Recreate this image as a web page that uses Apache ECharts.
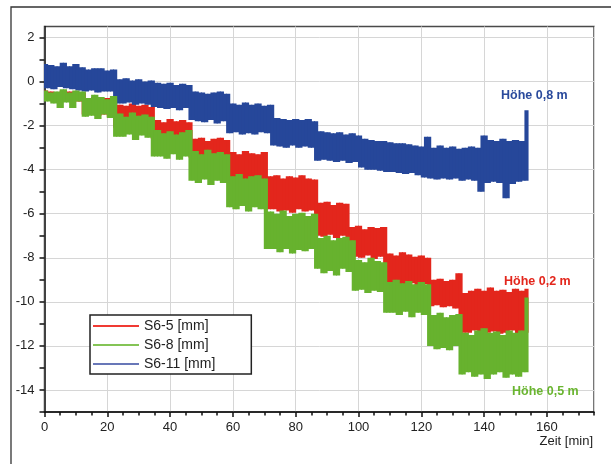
<!DOCTYPE html>
<html>
<head>
<meta charset="utf-8">
<script src="https://cdn.jsdelivr.net/npm/echarts@6/dist/echarts.min.js"></script>
<style>
html,body{margin:0;padding:0;background:#fff;}
#c{width:611px;height:464px;}
</style>
</head>
<body>
<div id="c"></div>
<script>
const seriesNames = ['S6-5 [mm]', 'S6-8 [mm]', 'S6-11 [mm]'];
const xTicks = [0, 20, 40, 60, 80, 100, 120, 140, 160];
const yTicks = [-14, -12, -10, -8, -6, -4, -2, 0, 2];

const s6_5 = [
 -0.4,-0.85,-0.45,-0.9,-0.5,-0.8,-0.4,-0.9,-0.45,-0.85,-0.5,-0.9,-0.5,
 -1.5,-0.75,-1.45,-0.7,-1.55,-0.8,-1.5,-0.75,-1.6,-0.7,-2.1,
 -1.05,-2.1,-1.1,-2.0,-1.0,-2.2,-1.1,-2.1,-1.05,-2.15,-1.15,-2.6,
 -1.75,-2.6,-1.85,-2.5,-1.7,-2.65,-1.8,-2.55,-1.75,-2.6,-1.85,
 -3.45,-2.6,-3.55,-2.55,-3.5,-2.7,-3.6,-2.6,-3.45,-2.55,-3.5,-2.65,
 -4.45,-3.2,-4.55,-3.3,-4.5,-3.15,-4.6,-3.25,-4.45,-3.3,-4.55,-3.2,-5.8,
 -4.3,-5.8,-4.25,-5.9,-4.4,-5.85,-4.3,-5.95,-4.35,-5.8,-4.25,-5.9,-4.4,-5.85,-4.45,
 -7.0,-5.5,-7.05,-5.45,-6.95,-5.6,-7.1,-5.5,-7.0,-5.55,-7.95,
 -6.6,-7.95,-6.55,-8.0,-6.7,-7.9,-6.6,-8.05,-6.65,-7.95,-6.6,-9.15,
 -7.8,-9.15,-7.9,-9.2,-7.75,-9.25,-7.85,-9.15,-7.95,-9.3,-7.9,-9.2,-8.0,
 -10.2,-9.0,-10.15,-8.95,-10.25,-9.05,-10.2,-9.0,-10.3,-8.7,-11.4,
 -9.6,-11.4,-9.5,-11.3,-9.4,-11.5,-9.5,-11.4,-9.35,-11.35,-9.5,-11.45,-9.45,-11.4,-9.55,-11.3,-9.4,-11.5,-9.5,-11.4,
 -9.4
];

const s6_8 = [
 -0.4,-0.9,-0.5,-1.0,-0.45,-1.2,-0.35,-0.95,-0.5,-1.2,-0.4,-0.9,-0.45,
 -1.6,-0.75,-1.55,-0.6,-1.7,-0.7,-1.5,-0.8,-1.65,-0.65,-2.5,
 -1.45,-2.5,-1.6,-2.4,-1.4,-2.65,-1.55,-2.45,-1.5,-2.55,-1.6,-3.4,
 -2.2,-3.4,-2.35,-3.5,-2.25,-3.3,-2.4,-3.55,-2.3,-3.4,-2.2,
 -4.5,-3.15,-4.6,-3.3,-4.45,-3.1,-4.7,-3.25,-4.5,-3.2,-4.6,-3.3,
 -5.7,-4.3,-5.8,-4.2,-5.65,-4.4,-5.9,-4.3,-5.7,-4.25,-5.8,-4.4,-7.6,
 -5.9,-7.6,-6.0,-7.75,-5.85,-7.6,-6.1,-7.8,-6.0,-7.65,-5.95,-7.7,-6.1,-7.6,-6.0,
 -8.5,-7.1,-8.7,-7.0,-8.6,-7.2,-8.8,-7.1,-8.5,-7.05,-8.65,-7.2,
 -9.5,-8.1,-9.45,-8.2,-9.6,-8.0,-9.5,-8.15,-9.55,-8.2,-10.5,
 -9.1,-10.5,-9.0,-10.6,-9.15,-10.45,-9.05,-10.7,-9.2,-10.5,-9.1,-10.6,-9.2,
 -12.0,-10.6,-12.15,-10.5,-12.1,-10.7,-12.2,-10.6,-12.0,-10.55,-13.3,
 -11.4,-13.2,-11.5,-13.4,-11.3,-13.3,-11.2,-13.5,-11.4,-13.3,-11.35,-13.2,-11.5,-13.45,-11.3,-13.3,-11.4,-13.4,-11.3,-13.2,
 -9.8
];

const s6_11 = [
 0.8,-0.3,0.75,-0.35,0.7,-0.25,0.85,-0.3,0.7,-0.35,0.8,
 -0.4,0.65,-0.45,0.55,-0.4,0.6,-0.5,0.6,-0.45,0.5,-0.45,0.55,-1.0,
 0.1,-1.0,0.15,-0.95,0.05,-1.05,0.1,-1.0,0.0,-1.05,0.05,
 -1.15,-0.05,-1.2,-0.1,-1.25,-0.05,-1.2,-0.15,-1.3,-0.1,-1.2,-0.15,
 -1.75,-0.45,-1.8,-0.5,-1.85,-0.55,-1.75,-0.5,-1.9,-0.45,-1.8,-0.55,-2.35,
 -1.0,-2.3,-1.05,-2.4,-0.95,-2.35,-1.05,-2.4,-1.0,-2.3,-1.1,-2.35,-1.05,
 -2.9,-1.65,-2.95,-1.7,-3.0,-1.75,-2.9,-1.7,-3.0,-1.75,-2.95,-1.7,-3.0,-1.8,-3.6,
 -2.25,-3.55,-2.3,-3.6,-2.35,-3.65,-2.3,-3.6,-2.4,-3.7,-2.35,-3.65,-2.45,
 -3.9,-2.6,-4.0,-2.65,-4.0,-2.7,-4.05,-2.7,-4.1,-2.75,-4.1,-2.8,-4.15,-2.8,-4.2,-2.85,-4.15,-2.9,-4.25,-2.95,
 -4.35,-2.5,-4.4,-3.0,-4.45,-2.9,-4.4,-3.0,-4.45,-2.95,-4.4,-3.05,-4.5,-3.0,-4.45,-2.95,-4.5,-3.0,
 -5.0,-2.45,-4.6,-2.65,-4.55,-2.7,-4.6,-2.6,-5.3,-2.7,-4.65,-2.65,-4.55,-2.7,-4.5,
 -1.3
];

const colors = ['#e3261c', '#67b22e', '#26479a'];
const legendColors = ['#f03a33', '#84c456', '#6877b8'];

// consecutive samples -> [t0, t1, v0, v1]
function spans(arr) {
  const out = [];
  for (let i = 0; i < arr.length - 1; i++) out.push([i, i + 1, arr[i], arr[i + 1]]);
  return out;
}

function renderBand(params, api) {
  const pA = api.coord([api.value(0), api.value(2)]);
  const pB = api.coord([api.value(1), api.value(3)]);
  const yTop = Math.min(pA[1], pB[1]);
  const yBot = Math.max(pA[1], pB[1]);
  return {
    type: 'rect',
    shape: {x: pA[0] - 0.5, y: yTop, width: pB[0] - pA[0] + 1.0, height: yBot - yTop},
    style: {fill: api.visual('color')},
    silent: true
  };
}

const font = 'Liberation Sans, Arial, Helvetica, sans-serif';
const chart = echarts.init(document.getElementById('c'), null, {renderer: 'canvas'});

const series = [
  {name: seriesNames[0], data: spans(s6_5), itemStyle: {color: colors[0]}, z: 2},
  {name: seriesNames[2], data: spans(s6_11), itemStyle: {color: colors[2]}, z: 3},
  {name: seriesNames[1], data: spans(s6_8), itemStyle: {color: colors[1]}, z: 4}
].map(s => Object.assign(s, {
  type: 'custom', renderItem: renderBand, animation: false,
  encode: {x: [0, 1], y: [2, 3]}, xAxisIndex: 0, yAxisIndex: 0, clip: true
}));

chart.setOption({
  animation: false,
  backgroundColor: '#fff',
  textStyle: {fontFamily: font},
  grid: {left: 44.5, top: 26.5, right: 17, bottom: 52, show: true, borderColor: '#4a4a4a', borderWidth: 1.5, backgroundColor: 'transparent'},
  legend: {
    orient: 'vertical', left: 90, top: 315, z: 20,
    backgroundColor: '#fff', borderColor: '#222', borderWidth: 1.5, borderRadius: 0,
    padding: [4, 36, 3, 3],
    itemWidth: 46, itemHeight: 14, itemGap: 5,
    textStyle: {fontSize: 14, color: '#222', fontFamily: font},
    data: seriesNames.map((n, i) => ({name: n, icon: 'path://M0,0L46,0L46,2.2L0,2.2Z', itemStyle: {color: legendColors[i]}}))
  },
  xAxis: [
    {type: 'value', min: 0, max: 175, interval: 20,
     axisLine: {show: true, onZero: false, lineStyle: {color: '#111', width: 1.5}},
     axisTick: {show: true, length: 5, lineStyle: {color: '#111', width: 1.5}},
     axisLabel: {fontSize: 13, color: '#222', margin: 9, showMaxLabel: false,
       formatter: v => xTicks.indexOf(v) >= 0 ? String(v) : ''},
     splitLine: {show: true, lineStyle: {color: '#d6d6d6', width: 1}}},
    {type: 'value', min: 0, max: 175, interval: 5, gridIndex: 0, position: 'bottom',
     axisLine: {show: false, onZero: false}, axisTick: {show: true, length: 3.5, lineStyle: {color: '#111', width: 1.5}},
     axisLabel: {show: false}, splitLine: {show: false}}
  ],
  yAxis: [
    {type: 'value', min: -15, max: 2.5, interval: 1,
     axisLine: {show: true, onZero: false, lineStyle: {color: '#111', width: 1.5}},
     axisTick: {show: true, length: 5, lineStyle: {color: '#111', width: 1.5}},
     axisLabel: {fontSize: 13, color: '#222', margin: 10, showMaxLabel: false,
       formatter: v => yTicks.indexOf(v) >= 0 ? String(v) : ''},
     splitLine: {show: true, lineStyle: {color: ['rgba(0,0,0,0)', '#d6d6d6'], width: 1}}}
  ],
  series: series,
  graphic: [
    {type: 'polyline', z: 100, shape: {points: [[11, 464], [11, 7], [611, 7]]}, style: {stroke: '#333', lineWidth: 1.3, fill: null}, silent: true},
    {type: 'text', z: 100, left: 501, top: 89, style: {text: 'Höhe 0,8 m', fill: '#2a4a9c', font: 'bold 12.5px ' + font}},
    {type: 'text', z: 100, left: 504, top: 275, style: {text: 'Höhe 0,2 m', fill: '#e3261c', font: 'bold 12.5px ' + font}},
    {type: 'text', z: 100, left: 512, top: 385, style: {text: 'Höhe 0,5 m', fill: '#6ab530', font: 'bold 12.5px ' + font}},
    {type: 'text', z: 100, right: 18, top: 435, style: {text: 'Zeit [min]', fill: '#222', font: '13px ' + font}}
  ]
});
</script>
</body>
</html>
